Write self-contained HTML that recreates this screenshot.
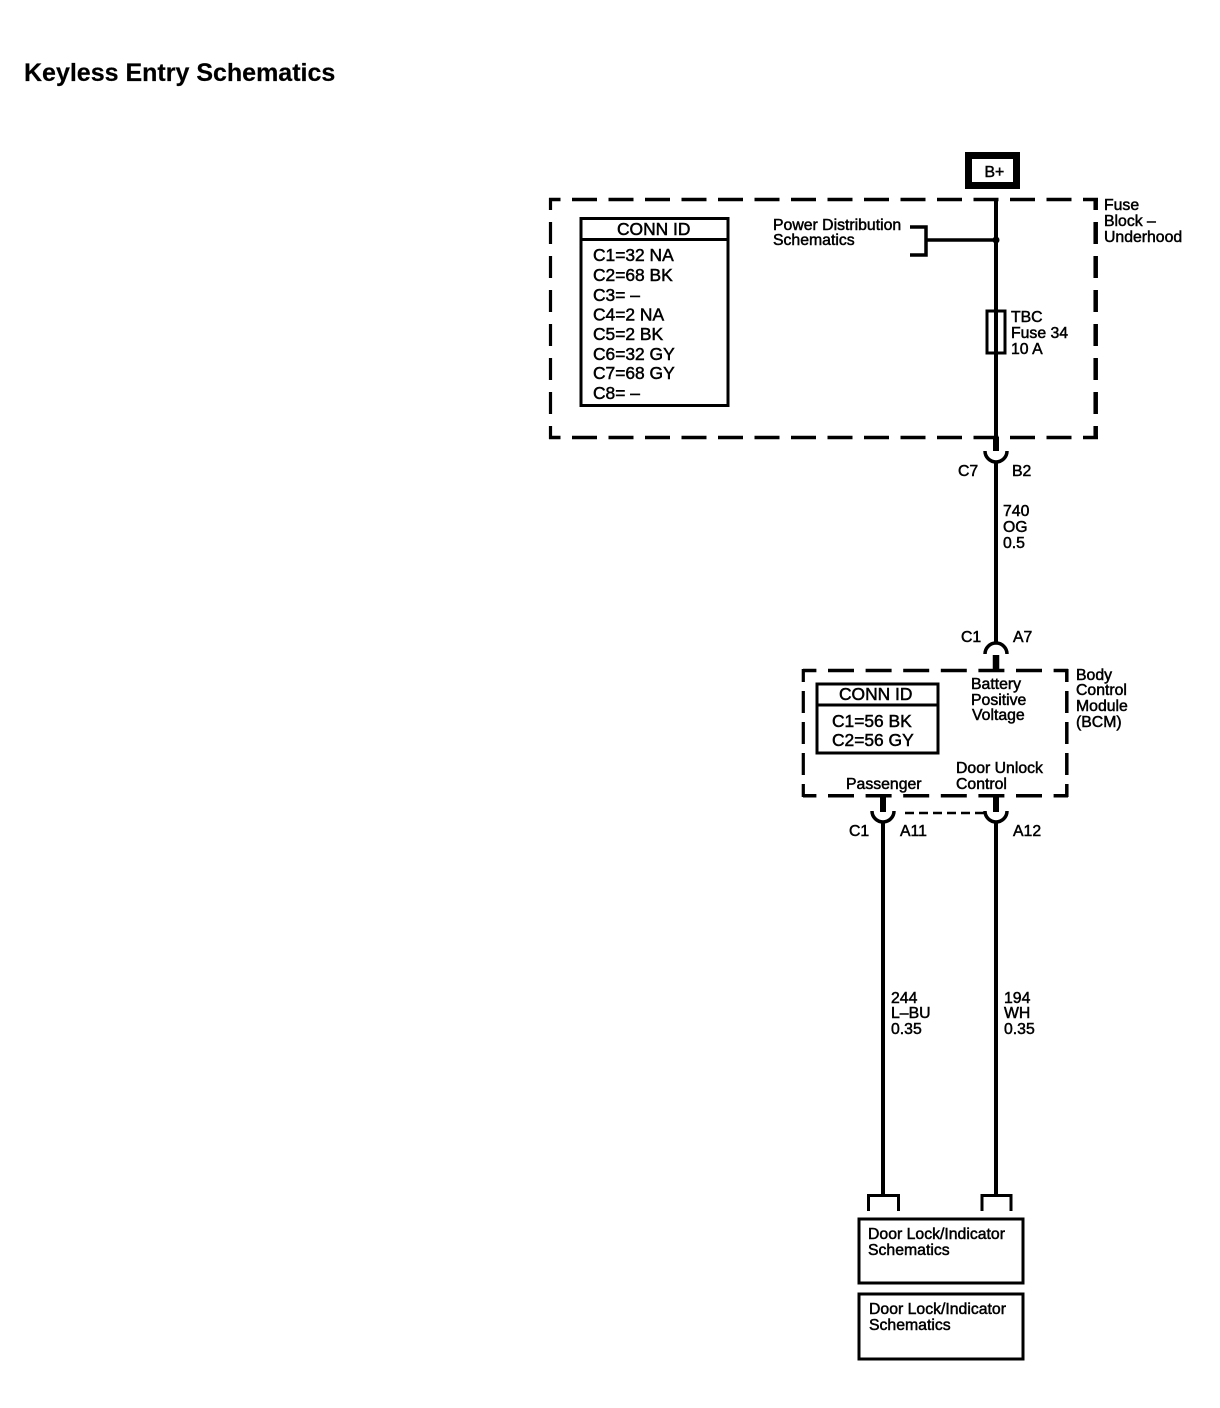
<!DOCTYPE html>
<html><head><meta charset="utf-8"><style>
html,body{margin:0;padding:0;background:#fff}
svg{display:block}
text{font-family:"Liberation Sans",sans-serif;font-size:15.8px;fill:#000;stroke:#000;stroke-width:.5}
.c{font-size:17.4px}
</style></head><body>
<svg width="1220" height="1408" viewBox="0 0 1220 1408" xmlns="http://www.w3.org/2000/svg">
<text x="24" y="81" style="font-size:25px;font-weight:bold;stroke-width:.2">Keyless Entry Schematics</text>
<g fill="none" stroke="#000">
<rect x="968.500" y="155.500" width="48" height="30" stroke-width="7"/>
<path d="M549 199.500H1098" stroke-width="3.500" stroke-dasharray="25 11.500" stroke-dashoffset="13.500"/>
<path d="M549 437.500H1098" stroke-width="3.500" stroke-dasharray="25 11.500" stroke-dashoffset="13.500"/>
<path d="M550.500 198V439" stroke-width="3.200" stroke-dasharray="22 12" stroke-dashoffset="10"/>
<path d="M1095.700 198V439" stroke-width="4.500" stroke-dasharray="22 12" stroke-dashoffset="10"/>
<rect x="581" y="218.500" width="147" height="187" stroke-width="3"/>
<path d="M581 239.500H728" stroke-width="3"/>
<path d="M996 199V437" stroke-width="4"/>
<path d="M926 240H996" stroke-width="3.500"/>
<path d="M910 227H926V255H910" stroke-width="3.500"/>
<rect x="987" y="311" width="18" height="42" stroke-width="3"/>
<path d="M996 437V451" stroke-width="6"/>
<path d="M985 451A11 11 0 0 0 1007 451" stroke-width="3.500"/>
<path d="M996 461V644" stroke-width="4"/>
<path d="M985 654A11 11 0 0 1 1007 654" stroke-width="3.500"/>
<path d="M996 655V670" stroke-width="6.500"/>
<path d="M803 670.500H1068" stroke-width="3.500" stroke-dasharray="26 11.600" stroke-dashoffset="12.600"/>
<path d="M803 795.700H1068" stroke-width="3.500" stroke-dasharray="26 11.600" stroke-dashoffset="12.600"/>
<path d="M803.300 669V797" stroke-width="3.200" stroke-dasharray="22 9" stroke-dashoffset="9"/>
<path d="M1066.800 669V797" stroke-width="3.500" stroke-dasharray="22 9" stroke-dashoffset="9"/>
<rect x="817" y="684" width="121" height="69" stroke-width="3"/>
<path d="M817 705H938" stroke-width="3"/>
<path d="M883 796V812M996 796V812" stroke-width="6"/>
<path d="M872 811A11 11 0 0 0 894 811M985 811A11 11 0 0 0 1007 811" stroke-width="3.500"/>
<path d="M905 813H985" stroke-width="2.500" stroke-dasharray="9 5"/>
<path d="M883 821V1195M996 821V1195" stroke-width="4"/>
<path d="M868.500 1211V1195.500H898.500V1211M982 1211V1195.500H1011V1211" stroke-width="3"/>
<rect x="859" y="1219" width="164" height="64" stroke-width="3"/>
<rect x="859" y="1294" width="164" height="65" stroke-width="3"/>
</g>
<circle cx="996" cy="240" r="3.500"/>
<text x="984.500" y="177">B+</text>
<text x="1104" y="210">Fuse</text><text x="1104" y="226">Block –</text><text x="1104" y="242">Underhood</text>
<text x="617" y="235" class="c">CONN ID</text>
<text x="593" y="261" class="c">C1=32 NA</text>
<text x="593" y="281" class="c">C2=68 BK</text>
<text x="593" y="301" class="c">C3= –</text>
<text x="593" y="320.500" class="c">C4=2 NA</text>
<text x="593" y="340" class="c">C5=2 BK</text>
<text x="593" y="360" class="c">C6=32 GY</text>
<text x="593" y="379" class="c">C7=68 GY</text>
<text x="593" y="399" class="c">C8= –</text>
<text x="773" y="230">Power Distribution</text><text x="773" y="245">Schematics</text>
<text x="1011" y="322">TBC</text><text x="1011" y="338">Fuse 34</text><text x="1011" y="354">10 A</text>
<text x="958" y="476">C7</text><text x="1012" y="476">B2</text>
<text x="1003" y="516">740</text><text x="1003" y="532">OG</text><text x="1003" y="548">0.5</text>
<text x="961" y="642">C1</text><text x="1013" y="642">A7</text>
<text x="971" y="689">Battery</text><text x="971" y="705">Positive</text><text x="972" y="720">Voltage</text>
<text x="1076" y="680">Body</text><text x="1076" y="695">Control</text><text x="1076" y="711">Module</text><text x="1076" y="727">(BCM)</text>
<text x="839" y="700" class="c">CONN ID</text>
<text x="832" y="727" class="c">C1=56 BK</text>
<text x="832" y="746" class="c">C2=56 GY</text>
<text x="956" y="773">Door Unlock</text><text x="956" y="789">Control</text>
<text x="846" y="789">Passenger</text>
<text x="849" y="836">C1</text><text x="900" y="836">A11</text><text x="1013" y="836">A12</text>
<text x="891" y="1003">244</text><text x="891" y="1018">L–BU</text><text x="891" y="1034">0.35</text>
<text x="1004" y="1003">194</text><text x="1004" y="1018">WH</text><text x="1004" y="1034">0.35</text>
<text x="868" y="1239">Door Lock/Indicator</text><text x="868" y="1255">Schematics</text>
<text x="869" y="1314">Door Lock/Indicator</text><text x="869" y="1330">Schematics</text>
</svg>
</body></html>
